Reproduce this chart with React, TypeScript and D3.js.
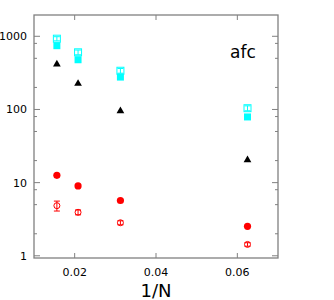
import React, { useEffect, useRef } from "react";
import * as d3 from "d3";

const invN = [1 / 64, 1 / 48, 1 / 32, 1 / 16];

const cyanOpen = [927, 604, 338, 104];
const cyanOpenErr = [60, 45, 25, 8];
const cyanFilled = [744, 478, 277, 79];
const blackTri = [421, 229, 97, 20.7];
const redFilled = [12.6, 9.0, 5.7, 2.53];
const redOpen = [4.84, 3.93, 2.83, 1.43];
const redOpenErr = [0.75, 0.3, 0.18, 0.08];

const xTicks = [0.02, 0.04, 0.06];
const yMajor = [1, 10, 100, 1000];
const yMinor = [2, 5, 8, 20, 50, 80, 200, 500, 800];

const App = () => {
  const ref = useRef<SVGSVGElement>(null);

  useEffect(() => {
    const svg = d3.select(ref.current);
    svg.selectAll("*").remove();

    const left = 34, right = 278, top = 15, bottom = 258;
    const x = d3.scaleLinear().domain([0.01, 0.07]).range([left, right]);
    const y = d3.scaleLog().domain([0.933, 1954]).range([bottom, top]);
    const frame = "#808080";
    const font = "DejaVu Sans, sans-serif";

    // ticks, drawn inward on all four sides
    const g = svg.append("g").attr("stroke", frame).attr("stroke-width", 1);
    xTicks.forEach((t) => {
      g.append("line").attr("x1", x(t)).attr("x2", x(t)).attr("y1", bottom).attr("y2", bottom - 5);
      g.append("line").attr("x1", x(t)).attr("x2", x(t)).attr("y1", top).attr("y2", top + 5);
    });
    yMajor.forEach((t) => {
      g.append("line").attr("x1", left).attr("x2", left + 6).attr("y1", y(t)).attr("y2", y(t));
      g.append("line").attr("x1", right).attr("x2", right - 6).attr("y1", y(t)).attr("y2", y(t));
    });
    yMinor.forEach((t) => {
      g.append("line").attr("x1", left).attr("x2", left + 3).attr("y1", y(t)).attr("y2", y(t));
      g.append("line").attr("x1", right).attr("x2", right - 3).attr("y1", y(t)).attr("y2", y(t));
    });

    svg.append("rect")
      .attr("x", left).attr("y", top)
      .attr("width", right - left).attr("height", bottom - top)
      .attr("fill", "none").attr("stroke", frame).attr("stroke-width", 1.3);

    // tick labels
    svg.selectAll(".xl").data(xTicks).enter().append("text")
      .attr("x", (d) => x(d)).attr("y", 276)
      .attr("text-anchor", "middle").attr("font-family", font).attr("font-size", 11)
      .text((d) => d.toString());
    svg.selectAll(".yl").data(yMajor).enter().append("text")
      .attr("x", 27).attr("y", (d) => y(d) + 4)
      .attr("text-anchor", "end").attr("font-family", font).attr("font-size", 11)
      .text((d) => d.toString());

    svg.append("text").attr("x", 156).attr("y", 297)
      .attr("text-anchor", "middle").attr("font-family", font).attr("font-size", 18)
      .text("1/N");
    svg.append("text").attr("x", 230).attr("y", 58)
      .attr("font-family", font).attr("font-size", 17)
      .text("afc");

    const errBar = (vals: number[], errs: number[], color: string) => {
      vals.forEach((v, i) => {
        const cx = x(invN[i]);
        const y1 = y(v + errs[i]), y2 = y(v - errs[i]);
        svg.append("line").attr("x1", cx).attr("x2", cx).attr("y1", y1).attr("y2", y2)
          .attr("stroke", color).attr("stroke-width", 1);
        [y1, y2].forEach((yy) =>
          svg.append("line").attr("x1", cx - 3).attr("x2", cx + 3).attr("y1", yy).attr("y2", yy)
            .attr("stroke", color).attr("stroke-width", 1));
      });
    };

    // cyan open squares
    svg.selectAll(".co").data(cyanOpen).enter().append("rect")
      .attr("x", (d, i) => x(invN[i]) - 3.5).attr("y", (d) => y(d) - 3.5)
      .attr("width", 7).attr("height", 7)
      .attr("fill", "none").attr("stroke", "#00ffff").attr("stroke-width", 1);
    errBar(cyanOpen, cyanOpenErr, "#00ffff");

    // cyan filled squares
    svg.selectAll(".cf").data(cyanFilled).enter().append("rect")
      .attr("x", (d, i) => x(invN[i]) - 3.5).attr("y", (d) => y(d) - 3.5)
      .attr("width", 7).attr("height", 7).attr("fill", "#00ffff");

    // black triangles
    const tri = d3.symbol().type(d3.symbolTriangle).size(26);
    svg.selectAll(".bt").data(blackTri).enter().append("path")
      .attr("d", tri)
      .attr("transform", (d, i) => `translate(${x(invN[i])},${y(d) + 0.5})`)
      .attr("fill", "#000");

    // red filled circles
    svg.selectAll(".rf").data(redFilled).enter().append("circle")
      .attr("cx", (d, i) => x(invN[i])).attr("cy", (d) => y(d))
      .attr("r", 3.6).attr("fill", "#ff0000");

    // red open circles
    svg.selectAll(".ro").data(redOpen).enter().append("circle")
      .attr("cx", (d, i) => x(invN[i])).attr("cy", (d) => y(d))
      .attr("r", 3).attr("fill", "none").attr("stroke", "#ff0000").attr("stroke-width", 1);
    errBar(redOpen, redOpenErr, "#ff0000");
  }, []);

  return (
    <svg
      ref={ref}
      width={334}
      height={300}
      style={{ position: "absolute", left: 0, top: 0, background: "#fff" }}
    />
  );
};

export default App;
